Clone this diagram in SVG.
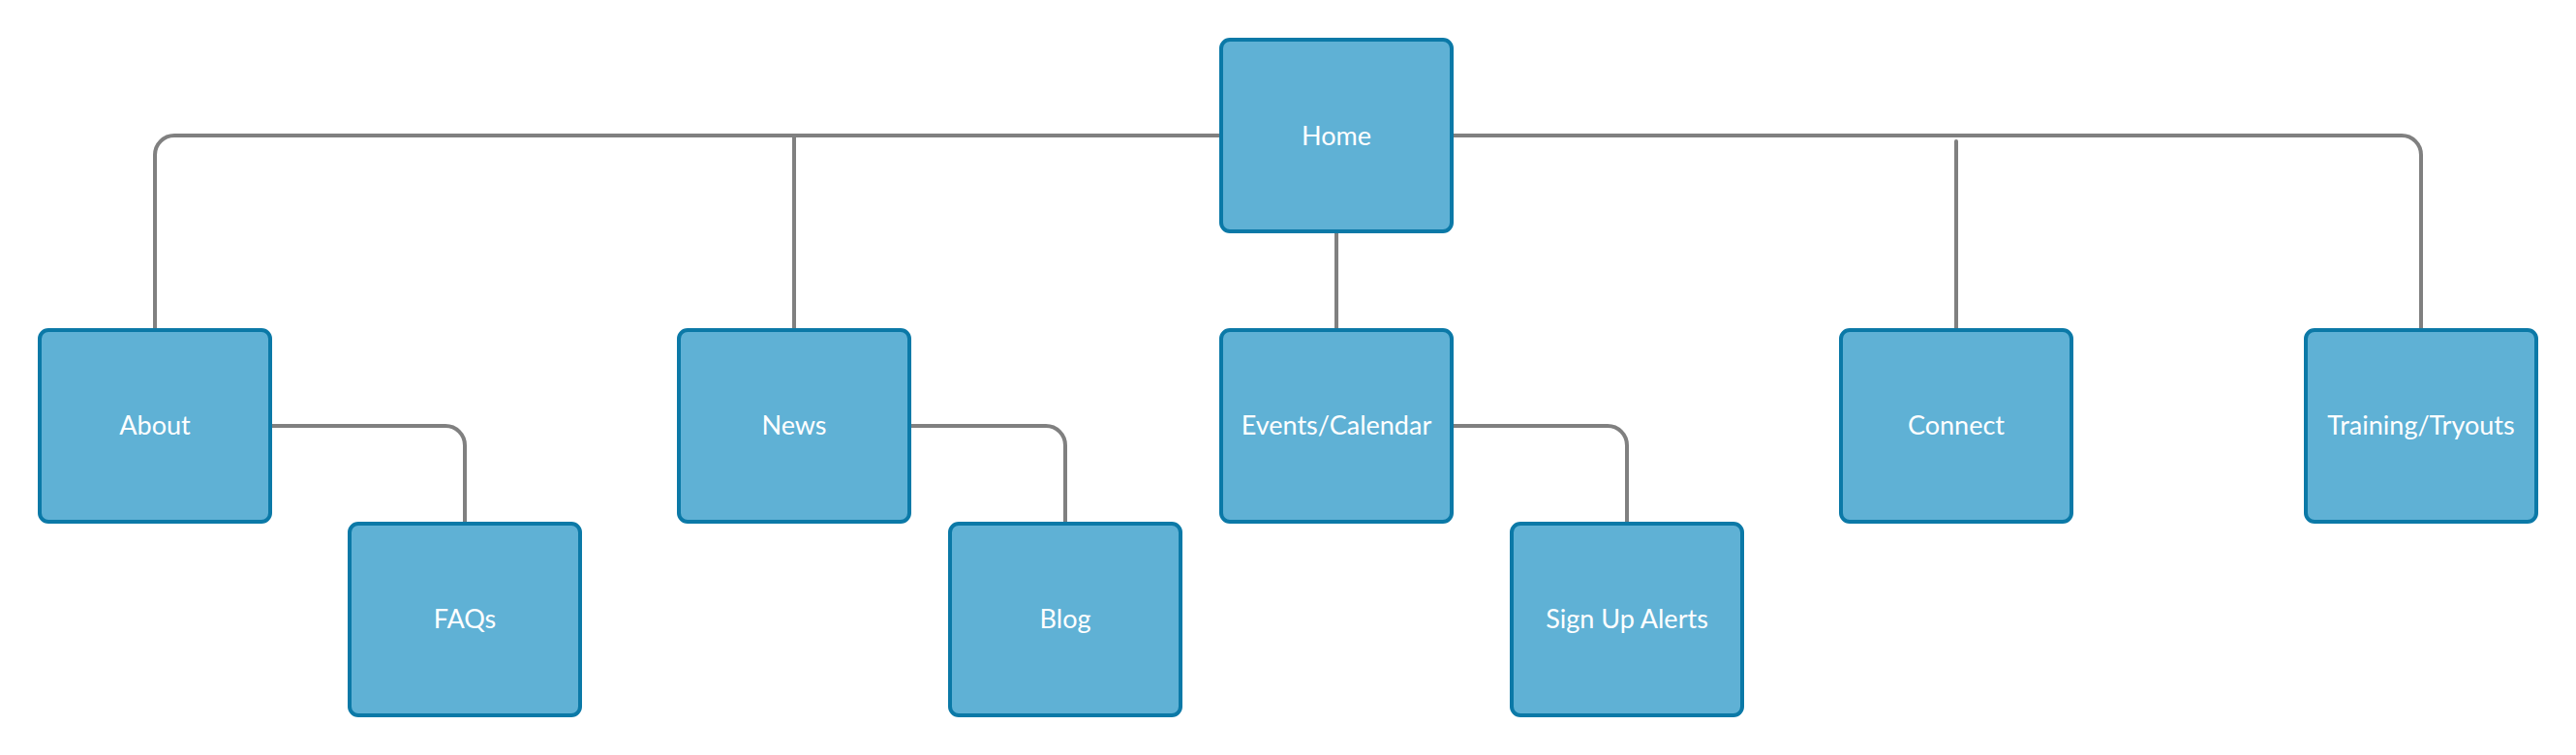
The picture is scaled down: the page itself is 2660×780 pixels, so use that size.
<svg xmlns="http://www.w3.org/2000/svg" width="2660" height="780" viewBox="0 0 2660 780">
<style>
.box{fill:#5fb1d5;stroke:#0b79a7;stroke-width:4}
.lbl{font-family:Lato,"Open Sans","Liberation Sans",sans-serif;font-size:27px;fill:#ffffff;text-anchor:middle}
.edge{fill:none;stroke:#808080;stroke-width:4;stroke-linecap:butt}
</style>
<rect width="2660" height="780" fill="#ffffff"/>
<g id="connectors">
<path class="edge" d="M1259,140 H180 A20,20 0 0 0 160,160 V339"/>
<path class="edge" d="M820,140 V339"/>
<path class="edge" d="M1501,140 H2480 A20,20 0 0 1 2500,160 V339"/>
<path class="edge" d="M2020,146 V339" style="stroke-linecap:round"/>
<path class="edge" d="M1380,241 V339"/>
<path class="edge" d="M281,440 H460 A20,20 0 0 1 480,460 V539"/>
<path class="edge" d="M941,440 H1080 A20,20 0 0 1 1100,460 V539"/>
<path class="edge" d="M1501,440 H1660 A20,20 0 0 1 1680,460 V539"/>
</g>
<g id="home"><rect class="box" x="1261" y="41" width="238" height="198" rx="9"/><text class="lbl" x="1380" y="150">Home</text></g>
<g id="about"><rect class="box" x="41" y="341" width="238" height="198" rx="9"/><text class="lbl" x="160" y="449">About</text></g>
<g id="news"><rect class="box" x="701" y="341" width="238" height="198" rx="9"/><text class="lbl" x="820" y="449">News</text></g>
<g id="events"><rect class="box" x="1261" y="341" width="238" height="198" rx="9"/><text class="lbl" x="1380" y="449">Events/Calendar</text></g>
<g id="connect"><rect class="box" x="1901" y="341" width="238" height="198" rx="9"/><text class="lbl" x="2020" y="449">Connect</text></g>
<g id="training"><rect class="box" x="2381" y="341" width="238" height="198" rx="9"/><text class="lbl" x="2500" y="449">Training/Tryouts</text></g>
<g id="faqs"><rect class="box" x="361" y="541" width="238" height="198" rx="9"/><text class="lbl" x="480" y="649">FAQs</text></g>
<g id="blog"><rect class="box" x="981" y="541" width="238" height="198" rx="9"/><text class="lbl" x="1100" y="649">Blog</text></g>
<g id="signup"><rect class="box" x="1561" y="541" width="238" height="198" rx="9"/><text class="lbl" x="1680" y="649">Sign Up Alerts</text></g>
</svg>
